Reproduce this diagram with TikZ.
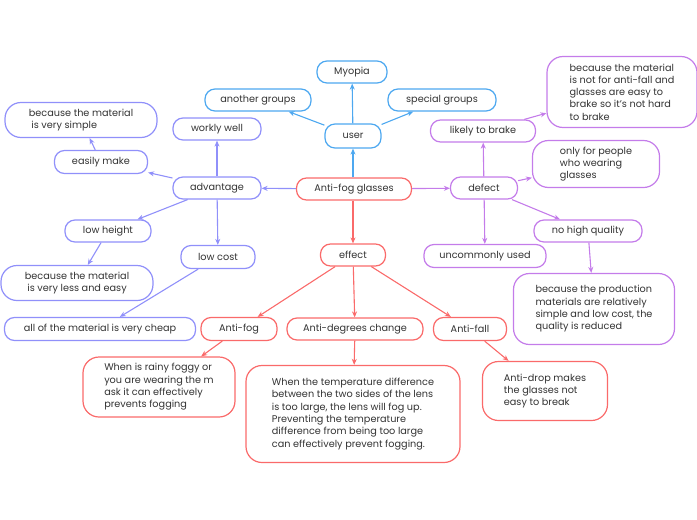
\documentclass[tikz,border=0pt]{standalone}
\usepackage{fontspec}
\setmainfont{Poppins}
\usetikzlibrary{arrows.meta}

\definecolor{effred}{HTML}{FA6A6A}
\definecolor{userblue}{HTML}{4DA8F0}
\definecolor{advblue}{HTML}{9090FA}
\definecolor{defviolet}{HTML}{C47CEA}
\definecolor{inktext}{HTML}{333333}

\tikzset{
  mapbox/.style={draw, rounded corners=10pt, line width=1.2pt, fill=white,
    text=inktext, font=\fontsize{9.7}{12.3}\selectfont, align=left,
    inner sep=2pt, minimum height=22pt},
  bigbox/.style={mapbox, rounded corners=16pt},
  link/.style={line width=1.1pt, -{Stealth[length=6pt,width=5pt]}}
}

\begin{document}
\begin{tikzpicture}[x=1pt, y=-1pt]
            % Page frame
            \useasboundingbox (0,0) rectangle (697,520);

            % Central topic
            \node[mapbox, draw=effred, minimum width=115pt] (glasses) at (354,189) {Anti-fog glasses};

            % User branch
            \node[mapbox, draw=userblue, minimum width=56pt, minimum height=24pt] (user) at (353,136) {user};
            \node[mapbox, draw=userblue, minimum width=70pt] (myopia) at (352,72) {Myopia};
            \node[mapbox, draw=userblue, minimum width=106pt] (another) at (258,100) {another groups};
            \node[mapbox, draw=userblue, minimum width=108pt] (special) at (442,100) {special groups};

            % Advantage branch
            \node[mapbox, draw=advblue, minimum width=88pt] (advantage) at (217,188) {advantage};
            \node[mapbox, draw=advblue, minimum width=88pt] (workly) at (217,129) {workly well};
            \node[mapbox, draw=advblue, minimum width=93pt, minimum height=23pt] (easily) at (101,162) {easily make};
            \node[bigbox, draw=advblue, minimum width=152pt, minimum height=35pt] (simple) at (81,120) {because the material\\\ is very simple};
            \node[mapbox, draw=advblue, minimum width=86pt] (lowheight) at (108,231) {low height};
            \node[bigbox, draw=advblue, minimum width=152pt, minimum height=35pt] (lesseasy) at (77,283) {because the material\\\ is very less and easy};
            \node[mapbox, draw=advblue, minimum width=74pt, minimum height=23pt] (lowcost) at (218,257) {low cost};
            \node[mapbox, draw=advblue, minimum width=191pt, minimum height=23pt] (cheap) at (100,329) {all of the material is very cheap};

            % Effect branch
            \node[mapbox, draw=effred, minimum width=65pt] (effect) at (353,255) {effect};
            \node[mapbox, draw=effred, minimum width=76pt, minimum height=23pt] (antifog) at (239,329) {Anti-fog};
            \node[mapbox, draw=effred, minimum width=136pt] (antideg) at (355,329) {Anti-degrees change};
            \node[mapbox, draw=effred, minimum width=73pt, minimum height=23pt] (antifall) at (470,329) {Anti-fall};
            \node[bigbox, draw=effred, minimum width=152pt, minimum height=60pt] (rainy) at (159,387) {When is rainy foggy or\\you are wearing the m\\ask it can effectively\\prevents fogging};
            \node[bigbox, draw=effred, minimum width=214pt, minimum height=97pt] (tempdiff) at (353,414) {When the temperature difference\\between the two sides of the lens\\is too large, the lens will fog up.\\Preventing the temperature\\difference from being too large\\can effectively prevent fogging.};
            \node[bigbox, draw=effred, minimum width=125pt, minimum height=59pt] (antidrop) at (545,391) {Anti-drop makes\\the glasses not\\easy to break};

            % Defect branch
            \node[mapbox, draw=defviolet, minimum width=67pt] (defect) at (484,188) {defect};
            \node[mapbox, draw=defviolet, minimum width=105pt] (brake) at (483,131) {likely to brake};
            \node[bigbox, draw=defviolet, minimum width=150pt, minimum height=71pt] (notfall) at (622,92) {because the material\\is not for anti-fall and\\glasses are easy to\\brake so it's not hard\\to brake};
            \node[bigbox, draw=defviolet, minimum width=127pt, minimum height=47pt] (onlyfor) at (596,164) {only for people\\who wearing\\glasses};
            \node[mapbox, draw=defviolet, minimum width=108pt] (nohigh) at (588,231) {no high quality};
            \node[mapbox, draw=defviolet, minimum width=122pt, minimum height=23pt] (uncommon) at (485,256) {uncommonly used};
            \node[bigbox, draw=defviolet, minimum width=161pt, minimum height=71pt] (production) at (594,309) {because the production\\materials are relatively\\simple and low cost, the\\quality is reduced};

            % Connectors of the user branch
            \draw[link, userblue] (glasses.north -| user.south) -- (user.south);
            \draw[link, userblue] (user) -- (myopia);
            \draw[link, userblue] (user) -- (another);
            \draw[link, userblue] (user) -- (special);

            % Connectors of the advantage branch
            \draw[link, advblue] (glasses) -- (advantage);
            \draw[link, advblue] (advantage) -- (workly);
            \draw[link, advblue] (advantage) -- (easily);
            \draw[link, advblue] (easily) -- (simple);
            \draw[link, advblue] (advantage) -- (lowheight);
            \draw[link, advblue] (lowheight) -- (lesseasy);
            \draw[link, advblue] (advantage) -- (lowcost);
            \draw[link, advblue] (lowcost) -- (cheap);

            % Connectors of the effect branch
            \draw[link, effred] (glasses.south -| effect.north) -- (effect.north);
            \draw[link, effred] (effect) -- (antifog);
            \draw[link, effred] (effect) -- (antideg);
            \draw[link, effred] (effect) -- (antifall);
            \draw[link, effred] (antifog) -- (rainy);
            \draw[link, effred] (antideg) -- (tempdiff);
            \draw[link, effred] (antifall) -- (antidrop);

            % Connectors of the defect branch
            \draw[link, defviolet] (glasses) -- (defect);
            \draw[link, defviolet] (defect) -- (brake);
            \draw[link, defviolet] (brake) -- (notfall);
            \draw[link, defviolet] (defect) -- (onlyfor);
            \draw[link, defviolet] (defect) -- (nohigh);
            \draw[link, defviolet] (nohigh) -- (production);
            \draw[link, defviolet] (defect) -- (uncommon);
        \end{tikzpicture}
\end{document}
